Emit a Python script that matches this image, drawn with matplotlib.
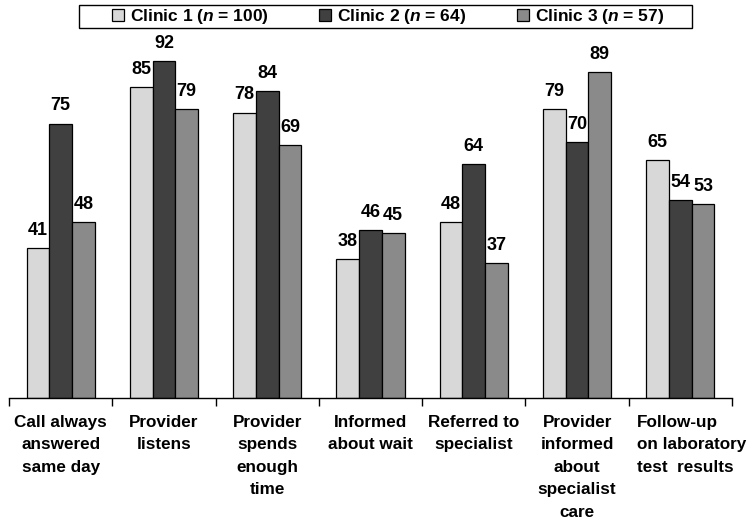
import numpy as np
import matplotlib
matplotlib.use("Agg")
import matplotlib.pyplot as plt
from matplotlib.patches import Patch, Rectangle
from matplotlib.transforms import ScaledTranslation

plt.rcParams['font.family'] = ['Liberation Sans', 'DejaVu Sans']
plt.rcParams['font.weight'] = 'bold'
plt.rcParams['mathtext.fontset'] = 'custom'
plt.rcParams['mathtext.it'] = 'Liberation Sans:italic:bold'
plt.rcParams['mathtext.rm'] = 'Liberation Sans:bold'

categories = [
    "Call always\nanswered\nsame day",
    "Provider\nlistens",
    "Provider\nspends\nenough\ntime",
    "Informed\nabout wait",
    "Referred to\nspecialist",
    "Provider\ninformed\nabout\nspecialist\ncare",
    "Follow-up\non laboratory\ntest  results",
]
series_names = [r"Clinic 1 ($\mathit{n}$ = 100)",
                r"Clinic 2 ($\mathit{n}$ = 64)",
                r"Clinic 3 ($\mathit{n}$ = 57)"]
clinic1 = [41, 85, 78, 38, 48, 79, 65]
clinic2 = [75, 92, 84, 46, 64, 70, 54]
clinic3 = [48, 79, 69, 45, 37, 89, 53]
colors = ["#d8d8d8", "#404040", "#8a8a8a"]

fig = plt.figure(figsize=(7.56, 5.2), dpi=100)
ax = fig.add_axes([9/756, 1 - 398/520, (732 - 9)/756, (398 - 32)/520])

x = np.arange(len(categories))
w = 0.22
for i, (vals, col) in enumerate(zip([clinic1, clinic2, clinic3], colors)):
    pos = x + (i - 1) * w
    ax.bar(pos, vals, width=w, color=col, edgecolor="black", linewidth=0.9)
    for px, v in zip(pos, vals):
        ax.annotate(f"{v}", (px, v), xytext=(0, 6.5), textcoords="offset points",
                    ha="center", va="bottom", fontsize=13, fontweight="bold")

ax.set_xlim(-0.5, len(categories) - 0.5)
ax.set_ylim(0, 100)
for s in ["left", "right", "top"]:
    ax.spines[s].set_visible(False)
ax.spines["bottom"].set_linewidth(1.0)
ax.set_yticks([])

ax.set_xticks(x)
ax.set_xticklabels(categories, fontsize=12.3, fontweight="bold", linespacing=1.63)
ax.tick_params(axis="x", which="major", length=0, pad=12)
ax.set_xticks(np.arange(-0.5, len(categories) + 0.5, 1), minor=True)
ax.tick_params(axis="x", which="minor", length=6, width=1.0, direction="out")
labels = ax.get_xticklabels()
labels[-1].set_multialignment("left")
labels[-1].set_transform(labels[-1].get_transform()
                         + ScaledTranslation(11/100, 0, fig.dpi_scale_trans))

# legend entries without frame, then a plain box drawn around them
handles = [Patch(facecolor=c, edgecolor="black", linewidth=0.9) for c in colors]
leg = fig.legend(handles, series_names, loc="center",
                 bbox_to_anchor=(388/756, 1 - 16.5/520), ncol=3,
                 frameon=False, fontsize=12.5, handlelength=0.7, handleheight=0.7,
                 handletextpad=0.35, columnspacing=2.9, borderpad=0.0,
                 borderaxespad=0)
for t in leg.get_texts():
    t.set_fontweight("bold")
fig.patches.append(Rectangle((79/756, 1 - 28/520), (692 - 79)/756, 23/520,
                             transform=fig.transFigure, facecolor="none",
                             edgecolor="black", linewidth=1.0))

fig.savefig("out.png", dpi=100)
